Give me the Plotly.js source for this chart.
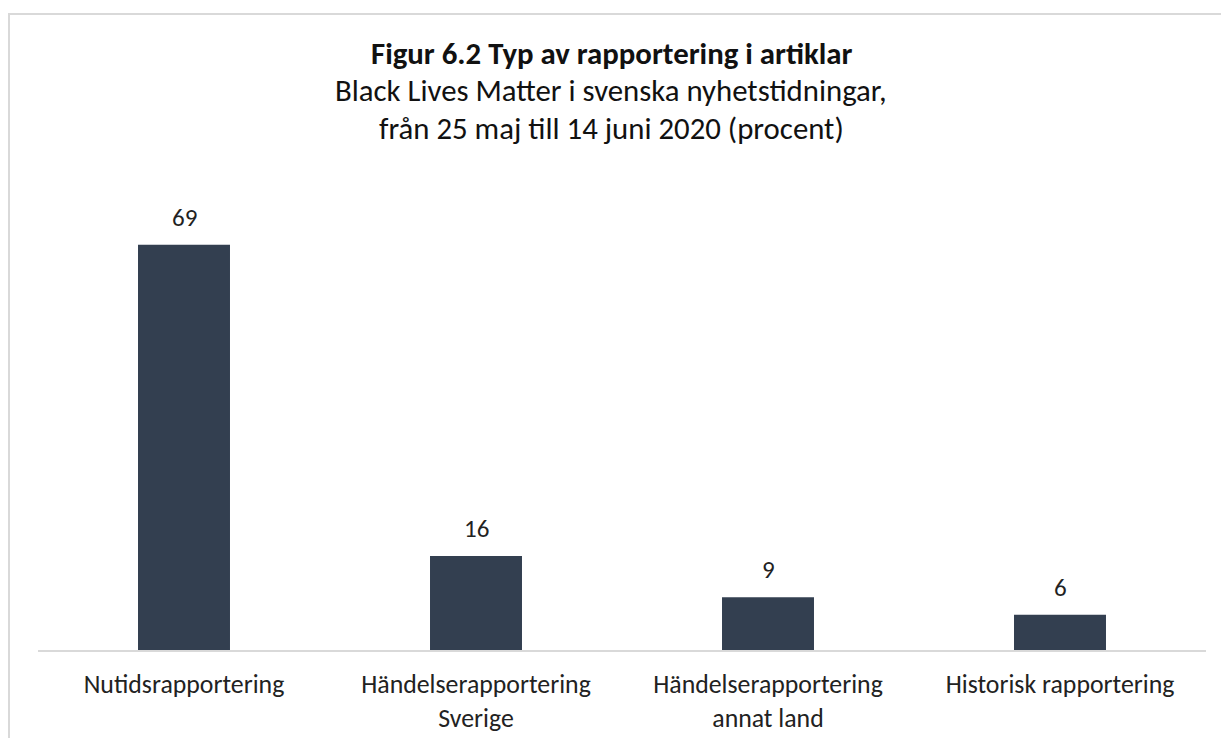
<!DOCTYPE html>
<html><head><meta charset="utf-8">
<script src="https://cdn.plot.ly/plotly-3.0.1.min.js"></script>
<style>html,body{margin:0;padding:0;overflow:hidden;background:#fff}
#frame{position:absolute;left:8px;top:13px;width:1300px;height:800px;border:2px solid #d9d9d9;pointer-events:none;box-sizing:border-box}
</style></head>
<body>
<div id="chart" style="width:1221px;height:738px;position:absolute;left:0;top:0"></div>
<div id="frame"></div>
<script>
const categories = ["Nutidsrapportering", "Händelserapportering<br>Sverige", "Händelserapportering<br>annat land", "Historisk rapportering"];
const values = [69, 16, 9, 6];
const titleLine = "Figur 6.2 Typ av rapportering i artiklar";
const subtitleLines = ["Black Lives Matter i svenska nyhetstidningar,", "från 25 maj till 14 juni 2020 (procent)"];

const font = "Carlito, Calibri, Lato, sans-serif";
const trace = {
  type: "bar", x: categories, y: values,
  marker: {color: "#333F50"},
  cliponaxis: false, hoverinfo: "none"
};
const mL = 38, mR = 15, mT = 180, mB = 88;
const plotH = 738 - mT - mB;
const titleX = (611 - mL) / (1221 - mL - mR);
const titleTexts = ["<b>" + titleLine + "</b>"].concat(subtitleLines);
const titleY = [53, 91, 128];
const annotations = titleTexts.map((t, i) => ({
  text: t, xref: "paper", yref: "paper", x: titleX, y: (650 - titleY[i]) / plotH,
  xanchor: "center", yanchor: "middle", showarrow: false,
  font: {family: font, size: 30.8, color: "#111"}
}));
categories.forEach((c, i) => annotations.push({
  text: String(values[i]), x: c, y: values[i], xref: "x", yref: "y",
  xanchor: "center", yanchor: "bottom", yshift: 10, showarrow: false,
  font: {family: font, size: 25, color: "#222"}
}));
const layout = {
  width: 1221, height: 738,
  margin: {l: mL, r: mR, t: mT, b: mB},
  paper_bgcolor: "#fff", plot_bgcolor: "#fff",
  bargap: 0.685,
  showlegend: false,
  font: {family: font, color: "#222"},
  xaxis: {showline: true, linecolor: "#d9d9d9", linewidth: 2, ticks: "", ticklabelstandoff: 10,
          tickfont: {family: font, size: 25.8, color: "#222"}, showgrid: false, zeroline: false},
  yaxis: {range: [0, 80], visible: false, showgrid: false, zeroline: false},
  annotations: annotations
};
Plotly.newPlot("chart", [trace], layout, {staticPlot: true});
</script>
</body></html>
